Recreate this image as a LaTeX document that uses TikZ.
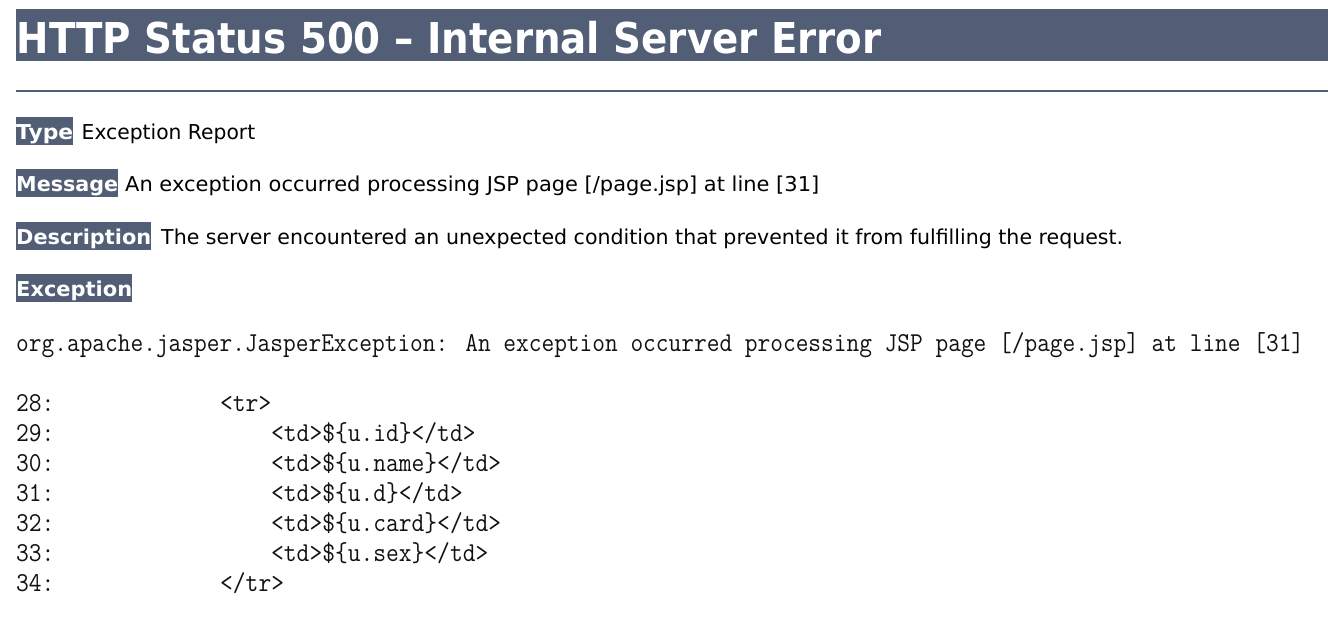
\documentclass[tikz,border=0pt]{standalone}
\usepackage{fontspec}
\usepackage{graphicx}
\setmainfont{DejaVu Sans}
\newcommand\codefont{\ttfamily}
\definecolor{hdr}{HTML}{525D76}
\definecolor{codeink}{HTML}{111111}
\newlength\fitlen
\newcommand\fitto[3]{\settowidth\fitlen{#3}\pgfmathsetmacro\fitr{#1/\fitlen}\scalebox{\fitr}[#2]{#3}}
\newcommand\cs[1]{\scalebox{1}[1.1]{#1}}
\begin{document}
\begin{tikzpicture}[x=1pt,y=-1pt,
  sansfont/.style={font=\fontsize{20.5}{24}\selectfont},
  lab/.style={sansfont,font=\bfseries\fontsize{20.5}{24}\selectfont,fill=hdr,text=white,inner sep=0pt,anchor=base west,text height=22.5pt,text depth=5.5pt},
  txt/.style={sansfont,inner sep=0pt,anchor=base west,text=black},
  code/.style={font=\codefont\fontsize{24.8}{28}\selectfont,inner sep=0pt,anchor=base west,text=codeink}]
\useasboundingbox[fill=white] (0,0) rectangle (1328,620);
% header bar
\node[fill=hdr,minimum width=1312pt,minimum height=52pt,inner sep=0pt,anchor=north west] (bar) at (16,9) {};
\node[inner sep=0pt,anchor=base west,text=white,font=\bfseries\fontsize{42.5}{48}\selectfont] (title) at (16.5,53.3) {\fitto{865}{1}{HTTP Status 500 – Internal Server Error}};
% rule
\coordinate (rl) at (16,91);
\coordinate (rr) at (1328,91);
\draw[hdr,line width=2pt] (rl) -- (rr);
% rows
\node[lab] (ltype) at (16,139.5) {\fitto{57}{1}{Type}};
\node[txt] (ttype) at (81.5,139.5) {\fitto{173.5}{1}{Exception Report}};
\node[lab] (lmsg) at (16,192) {\fitto{102}{1}{Message}};
\node[txt] (tmsg) at (125,192) {\fitto{694}{1}{An exception occurred processing JSP page [/page.jsp] at line [31]}};
\node[lab] (ldesc) at (16,244.5) {\fitto{135}{1}{Description}};
\node[txt] (tdesc) at (161,244.5) {\fitto{962}{1}{The server encountered an unexpected condition that prevented it from fulfilling the request.}};
\node[lab] (lexc) at (16,297) {\fitto{116}{1}{Exception}};
% exception text
\node[code] (exc) at (16,352) {\fitto{1288}{1.1}{org.apache.jasper.JasperException: An exception occurred processing JSP page [/page.jsp] at line [31]}};
% code lines
\node[code] (n28) at (16,411.7) {\cs{28:}};
\node[code] (n29) at (16,441.7) {\cs{29:}};
\node[code] (n30) at (16,471.7) {\cs{30:}};
\node[code] (n31) at (16,501.7) {\cs{31:}};
\node[code] (n32) at (16,531.7) {\cs{32:}};
\node[code] (n33) at (16,561.7) {\cs{33:}};
\node[code] (n34) at (16,591.7) {\cs{34:}};
\node[code] (c28) at (220,411.7) {\cs{<tr>}};
\node[code] (c29) at (271,441.7) {\cs{<td>\$\{u.id\}</td>}};
\node[code] (c30) at (271,471.7) {\cs{<td>\$\{u.name\}</td>}};
\node[code] (c31) at (271,501.7) {\cs{<td>\$\{u.d\}</td>}};
\node[code] (c32) at (271,531.7) {\cs{<td>\$\{u.card\}</td>}};
\node[code] (c33) at (271,561.7) {\cs{<td>\$\{u.sex\}</td>}};
\node[code] (c34) at (220,591.7) {\cs{</tr>}};
\end{tikzpicture}
\end{document}
